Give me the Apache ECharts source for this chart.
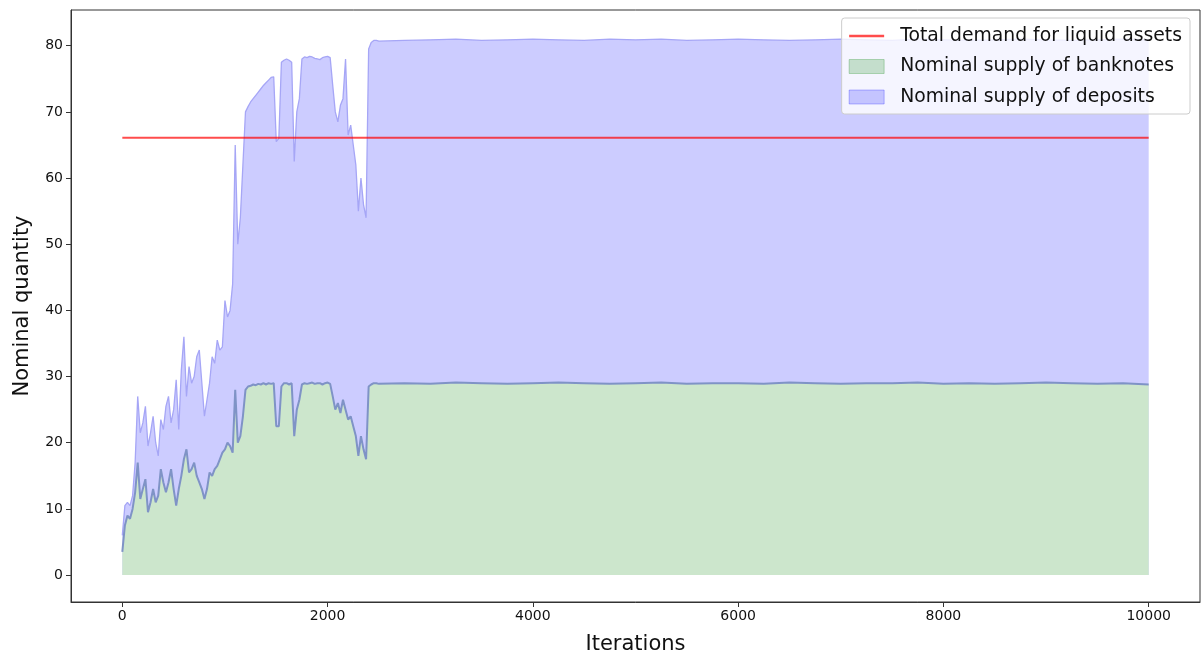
<!DOCTYPE html>
<html>
<head>
<meta charset="utf-8">
<script src="https://cdn.jsdelivr.net/npm/echarts@6/dist/echarts.min.js"></script>
<style>
html,body{margin:0;padding:0;background:#fff;}
#chart{width:1203px;height:659px;}
</style>
</head>
<body>
<div id="chart"></div>
<script>
const iterations = [
  0,25,50,75,100,125,150,175,200,225,250,275,300,325,350,375,400,425,450,475,
  500,525,550,575,600,625,650,675,700,725,750,775,800,825,850,875,900,925,950,975,
  1000,1025,1050,1075,1100,1125,1150,1175,1200,1225,1250,1275,1300,1325,1350,1375,1400,1425,1450,1475,
  1500,1525,1550,1575,1600,1625,1650,1675,1700,1725,1750,1775,1800,1825,1850,1875,1900,1925,1950,1975,
  2000,2025,2050,2075,2100,2125,2150,2175,2200,2225,2250,2275,2300,2325,2350,2375,2400,2425,2450,2475,2500,
  2750,3000,3250,3500,3750,4000,4250,4500,4750,5000,5250,5500,5750,6000,6250,6500,6750,7000,7250,7500,
  7750,8000,8250,8500,8750,9000,9250,9500,9750,10000
];
const banknotes = [
  3.5,7.5,9,8.5,10,12.5,17,11.5,13,14.5,9.5,11,13,11,12,16,14,12.5,14,16,
  13,10.5,13,15,17.5,19,15.5,16,17,15,14,13,11.5,13,15.5,15,16,16.5,17.5,18.5,
  19,20,19.5,18.5,28,20,21,24,28,28.5,28.6,28.8,28.7,28.9,28.8,29,28.8,29,28.9,29,
  22.5,22.5,28.5,29,29,28.8,29,21,25,26.5,28.8,29,28.9,29,29.1,28.9,29,29,28.8,29,
  29.1,28.9,27,25,26,24.5,26.5,25,23.5,24,22.5,21,18,21,19,17.5,28.5,28.8,29,29,28.9,
  29.0,28.9,29.1,29.0,28.9,29.0,29.1,29.0,28.9,29.0,29.1,28.9,29.0,29.0,28.9,29.1,29.0,28.9,29.0,29.0,
  29.1,28.9,29.0,28.9,29.0,29.1,29.0,28.9,29.0,28.8
];
// upper edge of the deposits band (banknotes + deposits)
const totalSupply = [
  6,10.5,11,10.5,12,17,27,21.5,23,25.5,19.5,21.5,24,20,18,23.5,22,25.5,27,23,
  25,29.5,22,31,36,27,31.5,29,30,33,34,29,24,26.5,29,33,32,35.5,34,34.5,
  41.5,39,40,44,65,50,54,62,70,70.8,71.5,72,72.5,73,73.5,74,74.4,74.8,75.2,75.3,
  65.5,66,77.5,77.8,78,77.8,77.5,62.5,70,72,78,78.3,78.2,78.4,78.3,78.1,78,77.9,78.2,78.3,
  78.4,78.2,74,70,68.5,71,72,78,66.5,68,65,62,55,60,56,54,79.5,80.5,80.8,80.8,80.7,
  80.8,80.9,81.0,80.8,80.9,81.0,80.9,80.8,81.0,80.9,81.0,80.8,80.9,81.0,80.9,80.8,80.9,81.0,80.9,80.8,
  81.0,80.9,80.8,80.9,81.0,80.9,80.8,80.9,81.0,80.9
];
const demand = 66.1;
const xTicks = [0,2000,4000,6000,8000,10000];
const yTicks = [0,10,20,30,40,50,60,70,80];

const bankData = iterations.map((x,i)=>[x,banknotes[i]]);
const totalData = iterations.map((x,i)=>[x,totalSupply[i]]);
const demData = [[iterations[0],demand],[iterations[iterations.length-1],demand]];

const FONT = 'DejaVu Sans';
const chart = echarts.init(document.getElementById('chart'));
chart.setOption({
  animation:false,
  backgroundColor:'#fff',
  textStyle:{fontFamily:FONT},
  grid:{left:71,right:3,top:10,bottom:57,outerBoundsMode:'none',containLabel:false,
        show:true,borderColor:'#333',borderWidth:1,backgroundColor:'transparent'},
  legend:{
    orient:'vertical',right:13,top:18,
    padding:[8,8,7,7],
    itemWidth:35,itemHeight:14,itemGap:10.5,
    symbolKeepAspect:true,
    backgroundColor:'rgba(255,255,255,0.8)',
    borderColor:'#cccccc',borderWidth:1,borderRadius:3,
    textStyle:{fontFamily:FONT,fontSize:18.8,color:'#111',lineHeight:20,padding:[0,0,0,11]},
    data:[
      {name:'Total demand for liquid assets',icon:'path://M0,0H70V5H0Z',itemStyle:{color:'rgba(255,0,0,0.7)'}},
      {name:'Nominal supply of banknotes',icon:'rect',itemStyle:{color:'rgba(0,128,0,0.2)',borderColor:'rgba(0,128,0,0.25)',borderWidth:1}},
      {name:'Nominal supply of deposits',icon:'rect',itemStyle:{color:'rgba(0,0,255,0.2)',borderColor:'rgba(0,0,255,0.25)',borderWidth:1}}
    ]
  },
  xAxis:{
    type:'value',min:-500,max:10500,
    name:'Iterations',nameLocation:'middle',nameGap:32,
    nameTextStyle:{fontFamily:FONT,fontSize:21,color:'#111'},
    splitLine:{show:false},
    axisLine:{show:true,onZero:false,lineStyle:{color:'#333',width:1}},
    axisTick:{show:true,length:5,lineStyle:{color:'#333'},customValues:xTicks},
    axisLabel:{fontFamily:FONT,fontSize:14,color:'#111',margin:7,customValues:xTicks,
               formatter:v=>String(v)}
  },
  yAxis:{
    type:'value',min:-4.07,max:85.4,
    name:'Nominal quantity',nameLocation:'middle',nameGap:38,
    nameTextStyle:{fontFamily:FONT,fontSize:21,color:'#111'},
    splitLine:{show:false},
    axisLine:{show:true,onZero:false,lineStyle:{color:'#333',width:1}},
    axisTick:{show:true,length:5,lineStyle:{color:'#333'},customValues:yTicks},
    axisLabel:{fontFamily:FONT,fontSize:14,color:'#111',margin:8,customValues:yTicks,
               formatter:v=>String(v)}
  },
  series:[
    {
      name:'Nominal supply of deposits',type:'line',data:totalData,
      symbol:'none',smooth:false,
      lineStyle:{color:'#a6a6f6',width:1.3},
      itemStyle:{color:'rgba(0,0,255,0.2)'},
      areaStyle:{color:'rgb(204,204,255)',opacity:1,origin:0},
      z:1
    },
    {
      name:'Nominal supply of banknotes',type:'line',data:bankData,
      symbol:'none',smooth:false,
      lineStyle:{color:'#7f93c6',width:2},
      itemStyle:{color:'rgba(0,128,0,0.2)'},
      areaStyle:{color:'rgb(204,230,204)',opacity:1,origin:0},
      z:2
    },
    {
      name:'Total demand for liquid assets',type:'line',data:demData,
      symbol:'none',
      lineStyle:{color:'rgba(255,0,0,0.7)',width:2},
      itemStyle:{color:'rgba(255,0,0,0.7)'},
      z:5
    }
  ]
});
</script>
</body>
</html>
